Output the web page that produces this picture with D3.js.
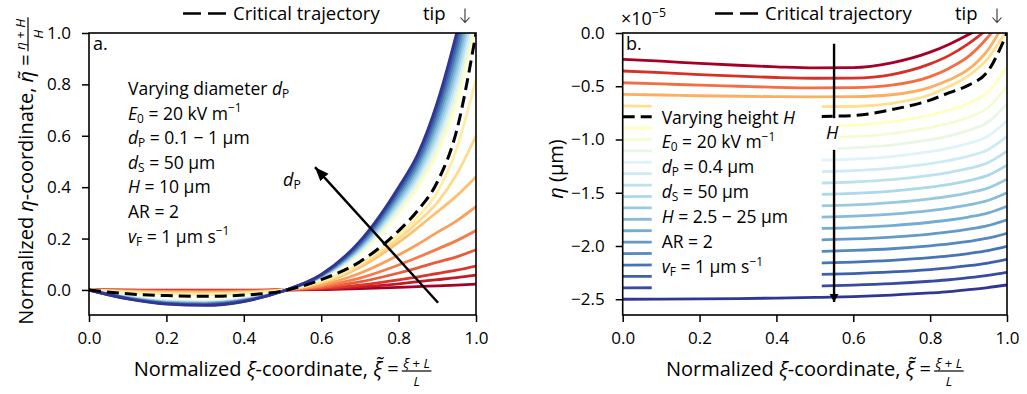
<!DOCTYPE html>
<html>
<head>
<meta charset="utf-8">
<script src="https://cdn.jsdelivr.net/npm/d3@7"></script>
<style>
  body { margin: 0; background: #fff; }
  text { font-family: "Open Sans", "DejaVu Sans", sans-serif; fill: #000; }
</style>
</head>
<body>
<div id="chart"></div>
<script>
// ---------- data ----------
// normalized xi positions where the trajectories were read off
const xiGrid = [0, 0.1, 0.2, 0.3, 0.4, 0.5, 0.6, 0.7, 0.8, 0.85, 0.9, 0.95, 1.0];

// panel a: particle diameters (um), critical one drawn dashed
const dpValues = [0.1, 0.147, 0.195, 0.242, 0.289, 0.337, 0.384, 0.432, 0.479,
                  0.574, 0.621, 0.668, 0.716, 0.763, 0.811, 0.858, 0.905, 0.953, 1.0];
const dpCritical = 0.526;

// normalized eta for each diameter (values past 1.0 leave the axes)
const etaA = [
  [0, -0.001, -0.001, -0.001, -0.001, 0, 0.001, 0.005, 0.010, 0.013, 0.016, 0.019, 0.023],
  [0, -0.001, -0.002, -0.002, -0.002, 0, 0.003, 0.012, 0.024, 0.032, 0.040, 0.048, 0.058],
  [0, -0.002, -0.003, -0.003, -0.002, 0, 0.006, 0.019, 0.039, 0.051, 0.064, 0.077, 0.093],
  [0, -0.003, -0.0045, -0.005, -0.004, 0, 0.009, 0.031, 0.066, 0.086, 0.108, 0.129, 0.156],
  [0, -0.004, -0.006, -0.007, -0.006, 0, 0.014, 0.046, 0.097, 0.127, 0.159, 0.192, 0.231],
  [0, -0.005, -0.008, -0.009, -0.007, 0, 0.019, 0.065, 0.136, 0.178, 0.224, 0.269, 0.324],
  [0, -0.007, -0.010, -0.011, -0.009, 0, 0.026, 0.088, 0.185, 0.243, 0.304, 0.366, 0.441],
  [0, -0.008, -0.012, -0.014, -0.011, -0.001, 0.030, 0.095, 0.200, 0.265, 0.340, 0.450, 0.600],
  [0, -0.010, -0.015, -0.017, -0.014, -0.002, 0.034, 0.102, 0.215, 0.285, 0.380, 0.550, 0.820],
  [0, -0.025, -0.040, -0.043, -0.033, -0.004, 0.045, 0.140, 0.300, 0.400, 0.530, 0.730, 1.040],
  [0, -0.026, -0.042, -0.045, -0.034, -0.004, 0.047, 0.146, 0.311, 0.414, 0.552, 0.760, 1.071],
  [0, -0.027, -0.043, -0.047, -0.036, -0.004, 0.048, 0.151, 0.322, 0.429, 0.574, 0.790, 1.102],
  [0, -0.028, -0.045, -0.049, -0.037, -0.004, 0.050, 0.157, 0.333, 0.443, 0.597, 0.820, 1.133],
  [0, -0.029, -0.047, -0.051, -0.038, -0.005, 0.052, 0.162, 0.344, 0.458, 0.619, 0.850, 1.164],
  [0, -0.031, -0.048, -0.052, -0.040, -0.005, 0.053, 0.168, 0.356, 0.472, 0.641, 0.880, 1.196],
  [0, -0.032, -0.050, -0.054, -0.041, -0.005, 0.055, 0.173, 0.367, 0.487, 0.663, 0.910, 1.227],
  [0, -0.033, -0.052, -0.056, -0.042, -0.005, 0.057, 0.179, 0.378, 0.501, 0.686, 0.940, 1.258],
  [0, -0.034, -0.053, -0.058, -0.044, -0.005, 0.058, 0.184, 0.389, 0.516, 0.708, 0.970, 1.289],
  [0, -0.035, -0.055, -0.060, -0.045, -0.005, 0.060, 0.190, 0.400, 0.530, 0.730, 1.000, 1.320]
];
const etaACritical = [0, -0.015, -0.022, -0.025, -0.020, -0.004, 0.040, 0.110, 0.230, 0.310, 0.420, 0.620, 1.000];

// panel b: channel heights (um), critical one drawn dashed
const hValues = [2.5, 3.57, 4.64, 5.71, 6.79, 8.93, 10.0, 11.07, 12.14, 13.21, 14.29,
                 15.36, 16.43, 17.5, 18.57, 19.64, 20.71, 21.79, 22.86, 23.93, 25.0];
const hCritical = 7.86;

// eta in units of 1e-5 m for each height
const etaB = [
  [-0.247, -0.265, -0.285, -0.303, -0.318, -0.328, -0.325, -0.280, -0.180, -0.105, -0.015, 0.090, 0.210],
  [-0.357, -0.372, -0.390, -0.405, -0.418, -0.425, -0.423, -0.390, -0.290, -0.210, -0.100, 0.040, 0.200],
  [-0.467, -0.478, -0.490, -0.500, -0.510, -0.515, -0.513, -0.490, -0.410, -0.330, -0.220, -0.040, 0.200],
  [-0.576, -0.582, -0.589, -0.594, -0.598, -0.600, -0.598, -0.580, -0.510, -0.440, -0.340, -0.160, 0.140],
  [-0.685, -0.687, -0.689, -0.691, -0.692, -0.692, -0.690, -0.660, -0.580, -0.500, -0.400, -0.240, 0.030],
  [-0.893, -0.892, -0.891, -0.888, -0.884, -0.879, -0.867, -0.835, -0.771, -0.725, -0.661, -0.557, -0.313],
  [-1.000, -0.999, -0.997, -0.995, -0.990, -0.984, -0.973, -0.944, -0.887, -0.847, -0.791, -0.702, -0.500],
  [-1.107, -1.106, -1.104, -1.101, -1.097, -1.090, -1.079, -1.052, -1.001, -0.965, -0.915, -0.838, -0.667],
  [-1.214, -1.213, -1.211, -1.208, -1.203, -1.196, -1.185, -1.160, -1.114, -1.081, -1.037, -0.969, -0.824],
  [-1.321, -1.320, -1.318, -1.315, -1.310, -1.303, -1.292, -1.268, -1.226, -1.196, -1.156, -1.096, -0.971],
  [-1.429, -1.428, -1.426, -1.422, -1.417, -1.410, -1.399, -1.377, -1.337, -1.309, -1.272, -1.218, -1.109],
  [-1.536, -1.535, -1.533, -1.529, -1.524, -1.517, -1.506, -1.484, -1.447, -1.421, -1.386, -1.337, -1.241],
  [-1.643, -1.642, -1.640, -1.636, -1.631, -1.624, -1.613, -1.592, -1.557, -1.533, -1.501, -1.456, -1.373],
  [-1.750, -1.749, -1.747, -1.743, -1.738, -1.730, -1.719, -1.700, -1.667, -1.644, -1.614, -1.573, -1.500],
  [-1.857, -1.856, -1.854, -1.850, -1.845, -1.837, -1.827, -1.808, -1.777, -1.756, -1.728, -1.691, -1.627],
  [-1.964, -1.963, -1.961, -1.957, -1.952, -1.945, -1.934, -1.916, -1.888, -1.868, -1.842, -1.809, -1.754],
  [-2.071, -2.070, -2.068, -2.064, -2.059, -2.052, -2.042, -2.026, -1.999, -1.981, -1.957, -1.927, -1.881],
  [-2.179, -2.178, -2.176, -2.172, -2.167, -2.161, -2.151, -2.135, -2.110, -2.093, -2.071, -2.044, -2.004],
  [-2.286, -2.285, -2.283, -2.280, -2.275, -2.268, -2.259, -2.244, -2.221, -2.205, -2.185, -2.160, -2.126],
  [-2.393, -2.392, -2.390, -2.387, -2.382, -2.376, -2.367, -2.353, -2.331, -2.317, -2.298, -2.276, -2.248],
  [-2.500, -2.499, -2.497, -2.494, -2.489, -2.483, -2.475, -2.461, -2.441, -2.428, -2.410, -2.390, -2.366]
];
const etaBCritical = [-0.786, -0.787, -0.788, -0.788, -0.787, -0.784, -0.775, -0.720, -0.630, -0.560, -0.490, -0.360, 0.0];

const xTicks = [0, 0.2, 0.4, 0.6, 0.8, 1.0];
const yTicksA = [0, 0.2, 0.4, 0.6, 0.8, 1.0];
const yTicksB = [0, -0.5, -1.0, -1.5, -2.0, -2.5];

const textA = [
  [["Varying diameter "], ["d", "i"], ["P", "sub"]],
  [["E", "i"], ["0", "sub"], [" = 20 kV m"], ["−1", "sup"]],
  [["d", "i"], ["P", "sub"], [" = 0.1 − 1 µm"]],
  [["d", "i"], ["S", "sub"], [" = 50 µm"]],
  [["H", "i"], [" = 10 µm"]],
  [["AR = 2"]],
  [["v", "i"], ["F", "sub"], [" = 1 µm s"], ["−1", "sup"]]
];
const textB = [
  [["Varying height "], ["H", "i"]],
  [["E", "i"], ["0", "sub"], [" = 20 kV m"], ["−1", "sup"]],
  [["d", "i"], ["P", "sub"], [" = 0.4 µm"]],
  [["d", "i"], ["S", "sub"], [" = 50 µm"]],
  [["H", "i"], [" = 2.5 − 25 µm"]],
  [["AR = 2"]],
  [["v", "i"], ["F", "sub"], [" = 1 µm s"], ["−1", "sup"]]
];

// ---------- helpers ----------
const BREWER = ["#a50026", "#d73027", "#f46d43", "#fdae61", "#fee090", "#ffffbf",
                "#e0f3f8", "#abd9e9", "#74add1", "#4575b4", "#313695"];
const cmap = d3.piecewise(d3.interpolateRgb, BREWER);

// curves above the critical one take the red half of the map, those below the blue half
function splitColors(values, critical) {
  const above = values.filter(v => v < critical).length;
  const below = values.length - above;
  const lo = d3.scaleLinear().domain([0, above]).range([0, 0.5]);
  const hi = d3.scaleLinear().domain([0, below - 1]).range([0.5, 1]);
  return values.map((v, i) => cmap(i < above ? lo(i) : hi(i - above)));
}

// write mathtext-like runs into a text element
function rich(sel, parts, size) {
  let shift = 0;
  parts.forEach(p => {
    const t = p[0], st = p[1] || "";
    let target = 0, fs = size;
    if (st === "sub") { target = size * 0.17; fs = size * 0.68; }
    if (st === "sup") { target = -size * 0.42; fs = size * 0.68; }
    sel.append("tspan")
      .attr("dy", target - shift)
      .attr("font-size", fs)
      .attr("font-style", st === "i" ? "italic" : "normal")
      .text(t);
    shift = target;
  });
}

// axis label with a stacked fraction at the end, centred on 0
function fracLabel(g, parts, num, den, size) {
  const t = g.append("text").attr("font-size", size);
  rich(t, parts, size);
  const w = t.node().getComputedTextLength();
  const fs = size * 0.66;
  const fg = g.append("g").attr("transform", `translate(${w + 3},0)`);
  const nt = fg.append("text").attr("font-size", fs).attr("y", -size * 0.42).attr("text-anchor", "middle");
  rich(nt, num, fs);
  const dt = fg.append("text").attr("font-size", fs).attr("y", size * 0.5).attr("text-anchor", "middle");
  rich(dt, den, fs);
  const fw = Math.max(nt.node().getComputedTextLength(), dt.node().getComputedTextLength()) + 3;
  nt.attr("x", fw / 2);
  dt.attr("x", fw / 2);
  fg.append("line").attr("x1", 0).attr("x2", fw)
    .attr("y1", -size * 0.25).attr("y2", -size * 0.25)
    .attr("stroke", "#000").attr("stroke-width", 1.2);
  const total = w + 3 + fw;
  g.selectAll(":scope > *").attr("transform", function() {
    const old = d3.select(this).attr("transform") || "";
    return `translate(${-total / 2},0) ` + old;
  });
}

const svg = d3.select("#chart").append("svg")
  .attr("width", 1027).attr("height", 394);

const defs = svg.append("defs");
defs.append("marker").attr("id", "headA")
  .attr("markerUnits", "userSpaceOnUse").attr("viewBox", "-14 -6 14 12")
  .attr("markerWidth", 14).attr("markerHeight", 12).attr("refX", 0).attr("refY", 0)
  .attr("orient", "auto")
  .append("path").attr("d", "M-14,-5.5L0,0L-14,5.5Z").attr("fill", "#000");
defs.append("marker").attr("id", "headB")
  .attr("markerUnits", "userSpaceOnUse").attr("viewBox", "-8 -5 8 10")
  .attr("markerWidth", 8).attr("markerHeight", 10).attr("refX", 0).attr("refY", 0)
  .attr("orient", "auto")
  .append("path").attr("d", "M-8,-4.5L0,0L-8,4.5Z").attr("fill", "#000");

function panel(id, left, right, top, bottom, ydom) {
  const x = d3.scaleLinear().domain([0, 1]).range([left, right]);
  const y = d3.scaleLinear().domain(ydom).range([bottom, top]);
  defs.append("clipPath").attr("id", "clip" + id)
    .append("rect").attr("x", left).attr("y", top)
    .attr("width", right - left).attr("height", bottom - top);
  const g = svg.append("g");
  const plot = g.append("g").attr("clip-path", `url(#clip${id})`);
  return { x, y, g, plot, left, right, top, bottom };
}

function axes(p, yTicks) {
  const fmt = d3.format(".1f");
  const ax = p.g.append("g").attr("transform", `translate(0,${p.bottom})`)
    .call(d3.axisBottom(p.x).tickValues(xTicks).tickFormat(fmt).tickSize(7).tickSizeOuter(0).tickPadding(10));
  const ay = p.g.append("g").attr("transform", `translate(${p.left},0)`)
    .call(d3.axisLeft(p.y).tickValues(yTicks).tickFormat(fmt).tickSize(7).tickSizeOuter(0).tickPadding(11));
  [ax, ay].forEach(a => {
    a.select(".domain").remove();
    a.selectAll(".tick line").attr("stroke", "#000").attr("stroke-width", 1.5);
    a.selectAll(".tick text").attr("font-size", 17).attr("font-family", "'Open Sans', sans-serif").attr("fill", "#000");
  });
  p.g.append("rect").attr("x", p.left).attr("y", p.top)
    .attr("width", p.right - p.left).attr("height", p.bottom - p.top)
    .attr("fill", "none").attr("stroke", "#000").attr("stroke-width", 1.6);
}

function topLegend(x0, tipX) {
  svg.append("line").attr("x1", x0).attr("x2", x0 + 44).attr("y1", 13.5).attr("y2", 13.5)
    .attr("stroke", "#000").attr("stroke-width", 2.6).attr("stroke-dasharray", "18,7");
  svg.append("text").attr("x", x0 + 50).attr("y", 20).attr("font-size", 18.5).text("Critical trajectory");
  svg.append("text").attr("x", tipX).attr("y", 20).attr("font-size", 18.5).text("tip");
  // thin downward arrow
  const ax = tipX + 42;
  svg.append("path")
    .attr("d", `M${ax},8.5V22.5M${ax - 4.5},17.5L${ax},22.5L${ax + 4.5},17.5`)
    .attr("fill", "none").attr("stroke", "#333").attr("stroke-width", 1.1);
}

function textBlock(x0, y0, step, lines) {
  lines.forEach((ln, i) => {
    const t = svg.append("text").attr("x", x0).attr("y", y0 + i * step).attr("font-size", 17.5);
    rich(t, ln, 17.5);
  });
}

// ---------- panel a ----------
const pa = panel("a", 89, 476, 33, 315, [-0.0975, 1.0]);
const colorsA = splitColors(dpValues, dpCritical);
const lineA = d3.line().x((d, i) => pa.x(xiGrid[i])).y(d => pa.y(d)).curve(d3.curveMonotoneX);

etaA.forEach((row, i) => {
  pa.plot.append("path").attr("d", lineA(row)).attr("fill", "none")
    .attr("stroke", colorsA[i]).attr("stroke-width", 2.8);
});
pa.plot.append("path").attr("d", lineA(etaACritical)).attr("fill", "none")
  .attr("stroke", "#000").attr("stroke-width", 3).attr("stroke-dasharray", "12,6");

// d_P arrow
pa.g.append("line")
  .attr("x1", pa.x(0.902)).attr("y1", pa.y(-0.0496))
  .attr("x2", pa.x(0.584)).attr("y2", pa.y(0.478))
  .attr("stroke", "#000").attr("stroke-width", 2.4).attr("marker-end", "url(#headA)");
const dpl = pa.g.append("text").attr("x", 283).attr("y", 186).attr("font-size", 18);
rich(dpl, [["d", "i"], ["P", "sub"]], 18);

axes(pa, yTicksA);
svg.append("text").attr("x", 93).attr("y", 50).attr("font-size", 18).text("a.");
textBlock(128, 95, 24.6, textA);
topLegend(183, 423);

// axis labels a
const xla = svg.append("g").attr("transform", "translate(282.5,376)");
fracLabel(xla, [["Normalized "], ["ξ", "i"], ["-coordinate, "], ["ξ̃", "i"], [" = "]],
  [["ξ", "i"], [" + "], ["L", "i"]], [["L", "i"]], 20);
const yla = svg.append("g").attr("transform", "translate(33,171) rotate(-90)");
fracLabel(yla, [["Normalized "], ["η", "i"], ["-coordinate, "], ["η̃", "i"], [" = "]],
  [["η", "i"], [" + "], ["H", "i"]], [["H", "i"]], 20);

// ---------- panel b ----------
const pb = panel("b", 622.7, 1007, 33, 315, [-2.648, 0]);
const colorsB = splitColors(hValues, hCritical);
const lineB = d3.line().x((d, i) => pb.x(xiGrid[i])).y(d => pb.y(d)).curve(d3.curveMonotoneX);

etaB.forEach((row, i) => {
  pb.plot.append("path").attr("d", lineB(row)).attr("fill", "none")
    .attr("stroke", colorsB[i]).attr("stroke-width", 2.8);
});
pb.plot.append("path").attr("d", lineB(etaBCritical)).attr("fill", "none")
  .attr("stroke", "#000").attr("stroke-width", 3).attr("stroke-dasharray", "12,6");

// H arrow
pb.g.append("line")
  .attr("x1", pb.x(0.55)).attr("y1", pb.y(-0.1))
  .attr("x2", pb.x(0.55)).attr("y2", pb.y(-2.525))
  .attr("stroke", "#000").attr("stroke-width", 2.4).attr("marker-end", "url(#headB)");

// text box
pb.g.append("rect")
  .attr("x", pb.x(0.0755)).attr("y", pb.y(-0.64))
  .attr("width", pb.x(0.518) - pb.x(0.0755)).attr("height", pb.y(-2.441) - pb.y(-0.64))
  .attr("rx", 3).attr("fill", "#fff");
pb.g.append("rect")
  .attr("x", pb.x(0.49)).attr("y", pb.y(-0.8))
  .attr("width", pb.x(0.56) - pb.x(0.49)).attr("height", pb.y(-1.097) - pb.y(-0.8))
  .attr("fill", "#fff");
const hl = pb.g.append("text").attr("x", pb.x(0.55) - 2).attr("y", 139)
  .attr("font-size", 18).attr("text-anchor", "middle");
rich(hl, [["H", "i"]], 18);

axes(pb, yTicksB);
svg.append("text").attr("x", 626).attr("y", 50).attr("font-size", 18).text("b.");
textBlock(661.7, 123.5, 24.9, textB);
topLegend(715, 955);

const sci = svg.append("text").attr("x", 621).attr("y", 25).attr("font-size", 18);
rich(sci, [["×10"], ["−5", "sup"]], 18);

const xlb = svg.append("g").attr("transform", "translate(814.8,376)");
fracLabel(xlb, [["Normalized "], ["ξ", "i"], ["-coordinate, "], ["ξ̃", "i"], [" = "]],
  [["ξ", "i"], [" + "], ["L", "i"]], [["L", "i"]], 20);
const ylb = svg.append("text").attr("transform", "translate(563,169) rotate(-90)")
  .attr("text-anchor", "middle").attr("font-size", 20);
rich(ylb, [["η", "i"], [" (µm)"]], 20);
</script>
</body>
</html>
